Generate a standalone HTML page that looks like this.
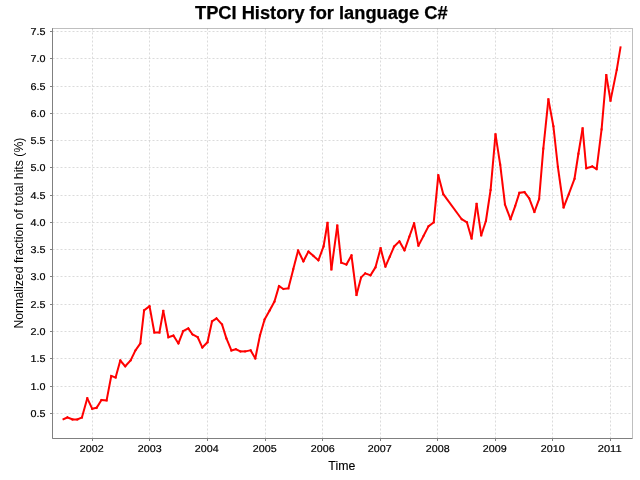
<!DOCTYPE html>
<html><head><meta charset="utf-8"><title>TPCI History for language C#</title>
<style>
html,body{margin:0;padding:0;background:#fff;}
body{width:640px;height:480px;overflow:hidden;font-family:"Liberation Sans",Arial,sans-serif;}
svg{display:block;}
svg text{font-family:"Liberation Sans",Arial,sans-serif;fill:#000;}
.tick{font-size:10px;stroke:#000;stroke-width:0.2px;text-rendering:geometricPrecision;}
.lab{font-size:12px;stroke:#000;stroke-width:0.12px;}
.title{font-size:18px;font-weight:bold;}
</style></head><body>
<svg width="640" height="480" viewBox="0 0 640 480">
<rect x="0" y="0" width="640" height="480" fill="#ffffff"/>
<text class="title" x="321.3" y="19" text-anchor="middle" stroke="#000" stroke-width="0.25" textLength="252.6" lengthAdjust="spacingAndGlyphs">TPCI History for language C#</text>
<g stroke="#c0c0c0" stroke-width="0.58" stroke-dasharray="2,2" fill="none">
<line x1="52.5" y1="413.50" x2="632.5" y2="413.50"/>
<line x1="52.5" y1="386.50" x2="632.5" y2="386.50"/>
<line x1="52.5" y1="358.50" x2="632.5" y2="358.50"/>
<line x1="52.5" y1="331.50" x2="632.5" y2="331.50"/>
<line x1="52.5" y1="304.50" x2="632.5" y2="304.50"/>
<line x1="52.5" y1="276.50" x2="632.5" y2="276.50"/>
<line x1="52.5" y1="249.50" x2="632.5" y2="249.50"/>
<line x1="52.5" y1="222.50" x2="632.5" y2="222.50"/>
<line x1="52.5" y1="195.50" x2="632.5" y2="195.50"/>
<line x1="52.5" y1="167.50" x2="632.5" y2="167.50"/>
<line x1="52.5" y1="140.50" x2="632.5" y2="140.50"/>
<line x1="52.5" y1="113.50" x2="632.5" y2="113.50"/>
<line x1="52.5" y1="86.50" x2="632.5" y2="86.50"/>
<line x1="52.5" y1="58.50" x2="632.5" y2="58.50"/>
<line x1="52.5" y1="31.50" x2="632.5" y2="31.50"/>
<line x1="92.50" y1="28.5" x2="92.50" y2="438.5"/>
<line x1="149.50" y1="28.5" x2="149.50" y2="438.5"/>
<line x1="207.50" y1="28.5" x2="207.50" y2="438.5"/>
<line x1="265.50" y1="28.5" x2="265.50" y2="438.5"/>
<line x1="322.50" y1="28.5" x2="322.50" y2="438.5"/>
<line x1="380.50" y1="28.5" x2="380.50" y2="438.5"/>
<line x1="437.50" y1="28.5" x2="437.50" y2="438.5"/>
<line x1="495.50" y1="28.5" x2="495.50" y2="438.5"/>
<line x1="552.50" y1="28.5" x2="552.50" y2="438.5"/>
<line x1="610.50" y1="28.5" x2="610.50" y2="438.5"/>
</g>
<rect x="52.5" y="28.5" width="580.0" height="410.0" fill="none" stroke="#808080" stroke-width="0.5"/>
<g stroke="#808080" stroke-width="1" fill="none">
<line x1="52.5" y1="28.5" x2="52.5" y2="438.5"/>
<line x1="52.5" y1="438.5" x2="632.5" y2="438.5"/>
<line x1="50.0" y1="413.50" x2="52.5" y2="413.50"/>
<line x1="50.0" y1="386.50" x2="52.5" y2="386.50"/>
<line x1="50.0" y1="358.50" x2="52.5" y2="358.50"/>
<line x1="50.0" y1="331.50" x2="52.5" y2="331.50"/>
<line x1="50.0" y1="304.50" x2="52.5" y2="304.50"/>
<line x1="50.0" y1="276.50" x2="52.5" y2="276.50"/>
<line x1="50.0" y1="249.50" x2="52.5" y2="249.50"/>
<line x1="50.0" y1="222.50" x2="52.5" y2="222.50"/>
<line x1="50.0" y1="195.50" x2="52.5" y2="195.50"/>
<line x1="50.0" y1="167.50" x2="52.5" y2="167.50"/>
<line x1="50.0" y1="140.50" x2="52.5" y2="140.50"/>
<line x1="50.0" y1="113.50" x2="52.5" y2="113.50"/>
<line x1="50.0" y1="86.50" x2="52.5" y2="86.50"/>
<line x1="50.0" y1="58.50" x2="52.5" y2="58.50"/>
<line x1="50.0" y1="31.50" x2="52.5" y2="31.50"/>
<line x1="92.50" y1="438.5" x2="92.50" y2="441.0"/>
<line x1="149.50" y1="438.5" x2="149.50" y2="441.0"/>
<line x1="207.50" y1="438.5" x2="207.50" y2="441.0"/>
<line x1="265.50" y1="438.5" x2="265.50" y2="441.0"/>
<line x1="322.50" y1="438.5" x2="322.50" y2="441.0"/>
<line x1="380.50" y1="438.5" x2="380.50" y2="441.0"/>
<line x1="437.50" y1="438.5" x2="437.50" y2="441.0"/>
<line x1="495.50" y1="438.5" x2="495.50" y2="441.0"/>
<line x1="552.50" y1="438.5" x2="552.50" y2="441.0"/>
<line x1="610.50" y1="438.5" x2="610.50" y2="441.0"/>
</g>
<text class="tick" x="45.4" y="417.00" text-anchor="end" textLength="15" lengthAdjust="spacingAndGlyphs">0.5</text>
<text class="tick" x="45.4" y="390.00" text-anchor="end" textLength="15" lengthAdjust="spacingAndGlyphs">1.0</text>
<text class="tick" x="45.4" y="362.00" text-anchor="end" textLength="15" lengthAdjust="spacingAndGlyphs">1.5</text>
<text class="tick" x="45.4" y="335.00" text-anchor="end" textLength="15" lengthAdjust="spacingAndGlyphs">2.0</text>
<text class="tick" x="45.4" y="308.00" text-anchor="end" textLength="15" lengthAdjust="spacingAndGlyphs">2.5</text>
<text class="tick" x="45.4" y="280.00" text-anchor="end" textLength="15" lengthAdjust="spacingAndGlyphs">3.0</text>
<text class="tick" x="45.4" y="253.00" text-anchor="end" textLength="15" lengthAdjust="spacingAndGlyphs">3.5</text>
<text class="tick" x="45.4" y="226.00" text-anchor="end" textLength="15" lengthAdjust="spacingAndGlyphs">4.0</text>
<text class="tick" x="45.4" y="199.00" text-anchor="end" textLength="15" lengthAdjust="spacingAndGlyphs">4.5</text>
<text class="tick" x="45.4" y="171.00" text-anchor="end" textLength="15" lengthAdjust="spacingAndGlyphs">5.0</text>
<text class="tick" x="45.4" y="144.00" text-anchor="end" textLength="15" lengthAdjust="spacingAndGlyphs">5.5</text>
<text class="tick" x="45.4" y="117.00" text-anchor="end" textLength="15" lengthAdjust="spacingAndGlyphs">6.0</text>
<text class="tick" x="45.4" y="90.00" text-anchor="end" textLength="15" lengthAdjust="spacingAndGlyphs">6.5</text>
<text class="tick" x="45.4" y="62.00" text-anchor="end" textLength="15" lengthAdjust="spacingAndGlyphs">7.0</text>
<text class="tick" x="45.4" y="35.00" text-anchor="end" textLength="15" lengthAdjust="spacingAndGlyphs">7.5</text>
<text class="tick" x="79.80" y="452.2" textLength="23.8" lengthAdjust="spacingAndGlyphs">2002</text>
<text class="tick" x="137.80" y="452.2" textLength="23.8" lengthAdjust="spacingAndGlyphs">2003</text>
<text class="tick" x="194.80" y="452.2" textLength="23.8" lengthAdjust="spacingAndGlyphs">2004</text>
<text class="tick" x="252.80" y="452.2" textLength="23.8" lengthAdjust="spacingAndGlyphs">2005</text>
<text class="tick" x="310.80" y="452.2" textLength="23.8" lengthAdjust="spacingAndGlyphs">2006</text>
<text class="tick" x="367.80" y="452.2" textLength="23.8" lengthAdjust="spacingAndGlyphs">2007</text>
<text class="tick" x="425.80" y="452.2" textLength="23.8" lengthAdjust="spacingAndGlyphs">2008</text>
<text class="tick" x="482.80" y="452.2" textLength="23.8" lengthAdjust="spacingAndGlyphs">2009</text>
<text class="tick" x="540.80" y="452.2" textLength="23.8" lengthAdjust="spacingAndGlyphs">2010</text>
<text class="tick" x="597.80" y="452.2" textLength="23.8" lengthAdjust="spacingAndGlyphs">2011</text>
<text class="lab" x="341.8" y="470" text-anchor="middle" textLength="27" lengthAdjust="spacingAndGlyphs">Time</text>
<text class="lab" style="stroke:none" transform="translate(23,233.1) rotate(-90)" text-anchor="middle" textLength="191" lengthAdjust="spacingAndGlyphs">Normalized fraction of total hits (%)</text>
<g fill="none" stroke="#ff0000" stroke-width="2" stroke-linecap="square">
<line x1="63.50" y1="419.20" x2="67.50" y2="417.42"/>
<line x1="67.50" y1="417.42" x2="72.50" y2="419.40"/>
<line x1="72.50" y1="419.40" x2="77.30" y2="419.49"/>
<line x1="77.30" y1="419.49" x2="81.90" y2="417.50"/>
<line x1="81.90" y1="417.50" x2="87.30" y2="398.30"/>
<line x1="87.30" y1="398.30" x2="92.20" y2="408.79"/>
<line x1="92.20" y1="408.79" x2="96.60" y2="407.80"/>
<line x1="96.60" y1="407.80" x2="101.40" y2="400.05"/>
<line x1="101.40" y1="400.05" x2="106.60" y2="400.45"/>
<line x1="106.60" y1="400.45" x2="111.25" y2="375.99"/>
<line x1="111.25" y1="375.99" x2="115.60" y2="377.51"/>
<line x1="115.60" y1="377.51" x2="120.30" y2="360.50"/>
<line x1="120.30" y1="360.50" x2="125.20" y2="366.30"/>
<line x1="125.20" y1="366.30" x2="130.60" y2="360.40"/>
<line x1="130.60" y1="360.40" x2="135.50" y2="350.30"/>
<line x1="135.50" y1="350.30" x2="140.30" y2="343.40"/>
<line x1="140.30" y1="343.40" x2="144.10" y2="310.30"/>
<line x1="144.10" y1="310.30" x2="149.50" y2="306.20"/>
<line x1="149.50" y1="306.20" x2="154.40" y2="332.50"/>
<line x1="154.40" y1="332.50" x2="159.40" y2="332.50"/>
<line x1="159.40" y1="332.50" x2="163.30" y2="310.90"/>
<line x1="163.30" y1="310.90" x2="168.40" y2="337.28"/>
<line x1="168.40" y1="337.28" x2="173.40" y2="335.52"/>
<line x1="173.40" y1="335.52" x2="178.40" y2="343.45"/>
<line x1="178.40" y1="343.45" x2="183.10" y2="331.25"/>
<line x1="183.10" y1="331.25" x2="188.30" y2="328.40"/>
<line x1="188.30" y1="328.40" x2="192.50" y2="334.40"/>
<line x1="192.50" y1="334.40" x2="197.70" y2="337.20"/>
<line x1="197.70" y1="337.20" x2="202.30" y2="347.50"/>
<line x1="202.30" y1="347.50" x2="207.50" y2="342.20"/>
<line x1="207.50" y1="342.20" x2="212.00" y2="321.40"/>
<line x1="212.00" y1="321.40" x2="216.50" y2="318.40"/>
<line x1="216.50" y1="318.40" x2="222.00" y2="324.40"/>
<line x1="222.00" y1="324.40" x2="226.40" y2="338.40"/>
<line x1="226.40" y1="338.40" x2="231.40" y2="350.45"/>
<line x1="231.40" y1="350.45" x2="235.80" y2="349.25"/>
<line x1="235.80" y1="349.25" x2="240.50" y2="351.40"/>
<line x1="240.50" y1="351.40" x2="245.20" y2="351.40"/>
<line x1="245.20" y1="351.40" x2="250.60" y2="350.32"/>
<line x1="250.60" y1="350.32" x2="255.30" y2="358.45"/>
<line x1="255.30" y1="358.45" x2="260.00" y2="335.30"/>
<line x1="260.00" y1="335.30" x2="264.60" y2="319.50"/>
<line x1="264.60" y1="319.50" x2="269.70" y2="310.30"/>
<line x1="269.70" y1="310.30" x2="274.40" y2="301.70"/>
<line x1="274.40" y1="301.70" x2="279.00" y2="286.10"/>
<line x1="279.00" y1="286.10" x2="283.40" y2="288.93"/>
<line x1="283.40" y1="288.93" x2="288.40" y2="288.30"/>
<line x1="288.40" y1="288.30" x2="293.30" y2="269.10"/>
<line x1="293.30" y1="269.10" x2="298.10" y2="250.50"/>
<line x1="298.10" y1="250.50" x2="303.40" y2="261.30"/>
<line x1="303.40" y1="261.30" x2="308.40" y2="251.55"/>
<line x1="308.40" y1="251.55" x2="313.40" y2="255.90"/>
<line x1="313.40" y1="255.90" x2="318.40" y2="260.30"/>
<line x1="318.40" y1="260.30" x2="323.60" y2="246.25"/>
<line x1="323.60" y1="246.25" x2="327.50" y2="222.80"/>
<line x1="327.50" y1="222.80" x2="331.40" y2="269.40"/>
<line x1="331.40" y1="269.40" x2="337.30" y2="225.50"/>
<line x1="337.30" y1="225.50" x2="341.25" y2="262.70"/>
<line x1="341.25" y1="262.70" x2="346.40" y2="264.59"/>
<line x1="346.40" y1="264.59" x2="351.50" y2="255.40"/>
<line x1="351.50" y1="255.40" x2="356.50" y2="295.00"/>
<line x1="356.50" y1="295.00" x2="361.10" y2="277.40"/>
<line x1="361.10" y1="277.40" x2="365.30" y2="273.34"/>
<line x1="365.30" y1="273.34" x2="370.50" y2="275.26"/>
<line x1="370.50" y1="275.26" x2="375.50" y2="267.20"/>
<line x1="375.50" y1="267.20" x2="380.60" y2="248.30"/>
<line x1="380.60" y1="248.30" x2="385.40" y2="266.60"/>
<line x1="385.40" y1="266.60" x2="389.80" y2="256.60"/>
<line x1="389.80" y1="256.60" x2="394.10" y2="246.50"/>
<line x1="394.10" y1="246.50" x2="399.40" y2="241.30"/>
<line x1="399.40" y1="241.30" x2="404.50" y2="250.30"/>
<line x1="404.50" y1="250.30" x2="409.30" y2="236.80"/>
<line x1="409.30" y1="236.80" x2="414.10" y2="223.30"/>
<line x1="414.10" y1="223.30" x2="418.40" y2="245.70"/>
<line x1="418.40" y1="245.70" x2="423.50" y2="236.00"/>
<line x1="423.50" y1="236.00" x2="428.50" y2="226.25"/>
<line x1="428.50" y1="226.25" x2="433.70" y2="222.40"/>
<line x1="433.70" y1="222.40" x2="438.30" y2="175.30"/>
<line x1="438.30" y1="175.30" x2="443.30" y2="194.20"/>
<line x1="443.30" y1="194.20" x2="461.70" y2="219.20"/>
<line x1="461.70" y1="219.20" x2="466.90" y2="222.30"/>
<line x1="466.90" y1="222.30" x2="471.60" y2="238.45"/>
<line x1="471.60" y1="238.45" x2="476.60" y2="203.90"/>
<line x1="476.60" y1="203.90" x2="481.25" y2="235.30"/>
<line x1="481.25" y1="235.30" x2="485.90" y2="221.00"/>
<line x1="485.90" y1="221.00" x2="490.60" y2="190.00"/>
<line x1="490.60" y1="190.00" x2="495.50" y2="134.40"/>
<line x1="495.50" y1="134.40" x2="500.20" y2="164.60"/>
<line x1="500.20" y1="164.60" x2="505.00" y2="204.50"/>
<line x1="505.00" y1="204.50" x2="510.50" y2="219.10"/>
<line x1="510.50" y1="219.10" x2="515.20" y2="206.00"/>
<line x1="515.20" y1="206.00" x2="519.40" y2="192.80"/>
<line x1="519.40" y1="192.80" x2="524.50" y2="192.08"/>
<line x1="524.50" y1="192.08" x2="529.20" y2="198.30"/>
<line x1="529.20" y1="198.30" x2="534.40" y2="212.00"/>
<line x1="534.40" y1="212.00" x2="539.10" y2="199.10"/>
<line x1="539.10" y1="199.10" x2="543.30" y2="148.60"/>
<line x1="543.30" y1="148.60" x2="548.40" y2="99.40"/>
<line x1="548.40" y1="99.40" x2="553.40" y2="126.25"/>
<line x1="553.40" y1="126.25" x2="557.90" y2="167.00"/>
<line x1="557.90" y1="167.00" x2="563.60" y2="207.40"/>
<line x1="563.60" y1="207.40" x2="568.80" y2="194.00"/>
<line x1="568.80" y1="194.00" x2="574.50" y2="178.75"/>
<line x1="574.50" y1="178.75" x2="578.40" y2="153.75"/>
<line x1="578.40" y1="153.75" x2="582.60" y2="128.30"/>
<line x1="582.60" y1="128.30" x2="586.25" y2="168.28"/>
<line x1="586.25" y1="168.28" x2="592.25" y2="166.47"/>
<line x1="592.25" y1="166.47" x2="596.60" y2="169.10"/>
<line x1="596.60" y1="169.10" x2="601.60" y2="129.40"/>
<line x1="601.60" y1="129.40" x2="606.30" y2="75.10"/>
<line x1="606.30" y1="75.10" x2="610.50" y2="100.60"/>
<line x1="610.50" y1="100.60" x2="616.80" y2="69.60"/>
<line x1="616.80" y1="69.60" x2="620.50" y2="47.40"/>
</g>
</svg>
</body></html>
